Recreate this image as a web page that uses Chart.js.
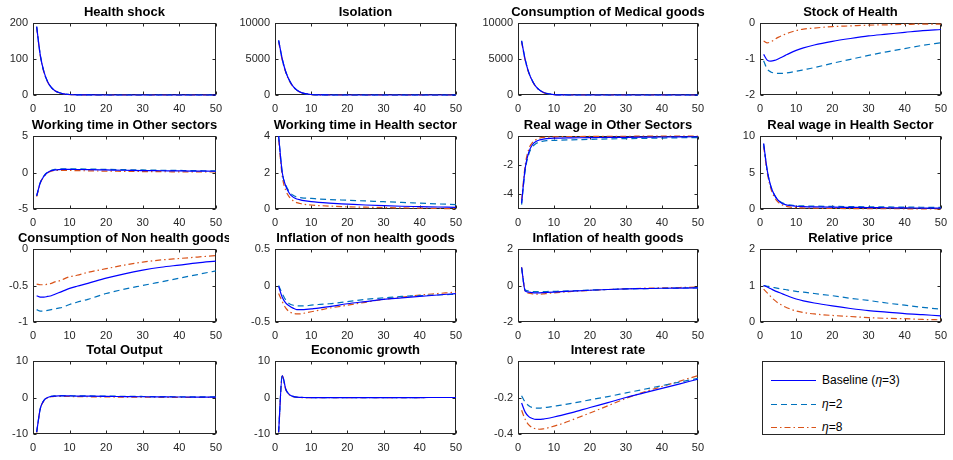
<!DOCTYPE html>
<html>
<head>
<meta charset="utf-8">
<script src="https://cdn.jsdelivr.net/npm/chart.js@4.4.1/dist/chart.umd.min.js"></script>
<style>
  html,body{margin:0;padding:0;background:#fff;}
  body{width:953px;height:460px;position:relative;overflow:hidden;font-family:"Liberation Sans",Arial,sans-serif;}
  canvas.panel{position:absolute;}
  #legend{position:absolute;left:762px;top:361px;width:181px;height:72px;border:1px solid #262626;background:#fff;}
  #legend .row{position:absolute;left:0;height:16px;width:181px;}
  #legend svg{position:absolute;left:8px;top:0;}
  #legend span{position:absolute;left:59px;top:0;font-size:12px;line-height:16px;color:#000;white-space:nowrap;}
</style>
</head>
<body>
<div id="legend">
  <div class="row" style="top:10px"><svg width="46" height="16"><line x1="0" y1="8.5" x2="45" y2="8.5" stroke="#0000FF" stroke-width="1.2"/></svg><span>Baseline (<i>η</i>=3)</span></div>
  <div class="row" style="top:34px"><svg width="46" height="16"><line x1="0" y1="8.5" x2="45" y2="8.5" stroke="#0072BD" stroke-width="1.2" stroke-dasharray="6,4"/></svg><span><i>η</i>=2</span></div>
  <div class="row" style="top:57px"><svg width="46" height="16"><line x1="0" y1="8.5" x2="45" y2="8.5" stroke="#D95319" stroke-width="1.2" stroke-dasharray="6,3,1.5,3"/></svg><span><i>η</i>=8</span></div>
</div>
<script>
// ---------- DATA ----------
const periods = [1,2,3,4,5,6,7,8,10,12,15,20,25,30,35,40,45,50];
const xTicks = [0,10,20,30,40,50];
const seriesNames = ["Baseline (η=3)", "η=2", "η=8"];

const titles = [
  "Health shock","Isolation","Consumption of Medical goods","Stock of Health",
  "Working time in Other sectors","Working time in Health sector","Real wage in Other Sectors","Real wage in Health Sector",
  "Consumption of Non health goods","Inflation of non health goods","Inflation of health goods","Relative price",
  "Total Output","Economic growth","Interest rate"
];
const yTicks = [
  [0,100,200],[0,5000,10000],[0,5000,10000],[-2,-1,0],
  [-5,0,5],[0,2,4],[-4,-2,0],[0,5,10],
  [-1,-0.5,0],[-0.5,0,0.5],[-2,0,2],[0,1,2],
  [-10,0,10],[-10,0,10],[-0.4,-0.2,0]
];
const yRanges = [
  [0,200],[0,10000],[0,10000],[-2,0],
  [-5,5],[0,4],[-5,0],[0,10],
  [-1,0],[-0.5,0.5],[-2,2],[0,2],
  [-10,10],[-10,10],[-0.4,0]
];

const healthShock_base = [190,110,64,37,21,12,7,4,1.4,0.5,0.1,0,0,0,0,0,0,0];
const healthShock_eta2 = [190,110,64,37,21,12,7,4,1.4,0.5,0.1,0,0,0,0,0,0,0];
const healthShock_eta8 = [188,108,63,36,20.5,11.8,6.8,3.9,1.3,0.5,0.1,0,0,0,0,0,0,0];

const isolation_base = [7600,5000,3200,2000,1200,700,400,220,70,20,3,0,0,0,0,0,0,0];
const isolation_eta2 = [7600,5000,3200,2000,1200,700,400,220,70,20,3,0,0,0,0,0,0,0];
const isolation_eta8 = [7400,4850,3100,1930,1150,670,380,210,65,18,3,0,0,0,0,0,0,0];

const medical_base = [7500,4900,3100,1950,1150,680,380,210,65,20,3,0,0,0,0,0,0,0];
const medical_eta2 = [7550,4950,3150,1980,1170,690,390,215,68,20,3,0,0,0,0,0,0,0];
const medical_eta8 = [7350,4800,3050,1900,1120,660,370,200,62,18,3,0,0,0,0,0,0,0];

const stock_base = [-0.87,-1.03,-1.06,-1.04,-1.0,-0.95,-0.9,-0.85,-0.76,-0.69,-0.61,-0.51,-0.43,-0.36,-0.31,-0.26,-0.21,-0.18];
const stock_eta2 = [-1.05,-1.28,-1.36,-1.39,-1.4,-1.4,-1.39,-1.38,-1.34,-1.3,-1.24,-1.12,-1.01,-0.9,-0.8,-0.71,-0.62,-0.55];
const stock_eta8 = [-0.5,-0.55,-0.52,-0.46,-0.4,-0.35,-0.31,-0.27,-0.21,-0.17,-0.14,-0.1,-0.08,-0.06,-0.05,-0.04,-0.03,-0.03];

const workOther_base = [-3.2,-1.4,-0.5,0,0.25,0.35,0.4,0.42,0.42,0.41,0.39,0.35,0.31,0.27,0.24,0.21,0.19,0.17];
const workOther_eta2 = [-3.2,-1.35,-0.45,0.05,0.3,0.42,0.47,0.5,0.5,0.49,0.47,0.43,0.39,0.35,0.31,0.28,0.25,0.22];
const workOther_eta8 = [-3.3,-1.45,-0.55,-0.05,0.18,0.28,0.3,0.3,0.28,0.26,0.23,0.19,0.16,0.13,0.11,0.09,0.08,0.07];

const workHealth_base = [4.0,2.0,1.25,0.85,0.65,0.55,0.5,0.46,0.4,0.36,0.32,0.27,0.22,0.18,0.15,0.13,0.11,0.09];
const workHealth_eta2 = [4.0,2.0,1.3,0.95,0.75,0.66,0.62,0.6,0.58,0.55,0.52,0.48,0.44,0.4,0.36,0.32,0.28,0.24];
const workHealth_eta8 = [3.8,1.8,1.0,0.65,0.45,0.35,0.3,0.26,0.22,0.19,0.16,0.12,0.1,0.08,0.06,0.05,0.03,0.02];

const wageOther_base = [-4.6,-2.2,-1.1,-0.6,-0.38,-0.27,-0.21,-0.18,-0.15,-0.14,-0.13,-0.11,-0.1,-0.09,-0.08,-0.07,-0.06,-0.05];
const wageOther_eta2 = [-4.7,-2.35,-1.25,-0.75,-0.52,-0.41,-0.35,-0.32,-0.3,-0.28,-0.26,-0.23,-0.2,-0.18,-0.16,-0.14,-0.12,-0.11];
const wageOther_eta8 = [-4.4,-2.0,-0.9,-0.45,-0.25,-0.15,-0.1,-0.08,-0.06,-0.05,-0.04,-0.03,-0.02,-0.02,-0.01,-0.01,-0.01,0];

const wageHealth_base = [9.0,5.3,3.1,1.9,1.2,0.8,0.6,0.48,0.38,0.33,0.29,0.25,0.22,0.19,0.17,0.15,0.13,0.11];
const wageHealth_eta2 = [8.9,5.3,3.1,1.95,1.25,0.88,0.68,0.56,0.46,0.42,0.39,0.36,0.33,0.3,0.28,0.26,0.24,0.22];
const wageHealth_eta8 = [8.6,5.0,2.8,1.6,0.95,0.6,0.4,0.28,0.18,0.14,0.11,0.08,0.06,0.05,0.04,0.03,0.02,0.02];

const consNonHealth_base = [-0.64,-0.66,-0.66,-0.65,-0.64,-0.62,-0.6,-0.58,-0.54,-0.51,-0.47,-0.4,-0.34,-0.29,-0.25,-0.22,-0.19,-0.165];
const consNonHealth_eta2 = [-0.83,-0.85,-0.85,-0.84,-0.83,-0.82,-0.81,-0.8,-0.76,-0.73,-0.69,-0.61,-0.55,-0.5,-0.45,-0.4,-0.35,-0.3];
const consNonHealth_eta8 = [-0.48,-0.49,-0.49,-0.48,-0.47,-0.45,-0.44,-0.42,-0.38,-0.36,-0.32,-0.27,-0.22,-0.18,-0.15,-0.13,-0.11,-0.09];

const inflNonHealth_base = [-0.01,-0.16,-0.24,-0.28,-0.31,-0.33,-0.33,-0.33,-0.32,-0.31,-0.29,-0.25,-0.22,-0.19,-0.17,-0.15,-0.13,-0.11];
const inflNonHealth_eta2 = [0,-0.11,-0.2,-0.25,-0.27,-0.28,-0.28,-0.28,-0.27,-0.26,-0.25,-0.22,-0.19,-0.17,-0.15,-0.14,-0.13,-0.12];
const inflNonHealth_eta8 = [-0.11,-0.22,-0.31,-0.36,-0.38,-0.39,-0.39,-0.38,-0.36,-0.34,-0.31,-0.27,-0.23,-0.19,-0.16,-0.13,-0.11,-0.09];

const inflHealth_base = [1.0,-0.3,-0.36,-0.39,-0.4,-0.4,-0.39,-0.38,-0.36,-0.34,-0.31,-0.26,-0.22,-0.19,-0.17,-0.15,-0.14,-0.13];
const inflHealth_eta2 = [0.95,-0.25,-0.3,-0.33,-0.34,-0.34,-0.34,-0.33,-0.32,-0.31,-0.29,-0.25,-0.22,-0.19,-0.17,-0.16,-0.14,-0.13];
const inflHealth_eta8 = [1.0,-0.3,-0.42,-0.46,-0.47,-0.47,-0.46,-0.44,-0.4,-0.37,-0.33,-0.27,-0.22,-0.18,-0.15,-0.13,-0.11,-0.09];

const relPrice_base = [1.0,0.96,0.91,0.86,0.82,0.78,0.74,0.7,0.63,0.58,0.52,0.44,0.37,0.31,0.27,0.23,0.2,0.17];
const relPrice_eta2 = [1.0,0.98,0.96,0.94,0.92,0.9,0.89,0.87,0.84,0.82,0.78,0.72,0.65,0.59,0.52,0.46,0.4,0.35];
const relPrice_eta8 = [0.9,0.8,0.69,0.6,0.52,0.46,0.41,0.37,0.3,0.26,0.22,0.18,0.15,0.12,0.1,0.09,0.07,0.06];

const output_base = [-9.5,-3.0,-0.8,0,0.3,0.4,0.45,0.45,0.42,0.4,0.36,0.3,0.25,0.2,0.17,0.14,0.12,0.1];
const output_eta2 = [-9.5,-3.0,-0.75,0.05,0.35,0.45,0.5,0.5,0.48,0.46,0.43,0.38,0.33,0.28,0.24,0.2,0.17,0.15];
const output_eta8 = [-9.6,-3.1,-0.9,-0.1,0.2,0.3,0.32,0.3,0.27,0.24,0.2,0.15,0.11,0.08,0.06,0.05,0.04,0.03];

const growth_base = [-9.5,6.0,2.2,0.8,0.3,0.1,0.05,0,-0.02,-0.02,-0.02,-0.02,-0.02,-0.01,-0.01,-0.01,0,0];
const growth_eta2 = [-9.5,6.0,2.2,0.8,0.3,0.1,0.05,0,-0.02,-0.02,-0.02,-0.02,-0.02,-0.01,-0.01,-0.01,0,0];
const growth_eta8 = [-9.6,5.9,2.1,0.7,0.2,0.05,0,-0.02,-0.03,-0.03,-0.03,-0.02,-0.02,-0.01,-0.01,-0.01,0,0];

const interest_base = [-0.23,-0.28,-0.305,-0.315,-0.32,-0.32,-0.318,-0.315,-0.307,-0.298,-0.283,-0.255,-0.228,-0.2,-0.175,-0.15,-0.125,-0.1];
const interest_eta2 = [-0.19,-0.225,-0.245,-0.255,-0.258,-0.258,-0.256,-0.254,-0.248,-0.242,-0.232,-0.213,-0.195,-0.175,-0.155,-0.135,-0.115,-0.095];
const interest_eta8 = [-0.27,-0.32,-0.35,-0.365,-0.372,-0.374,-0.372,-0.368,-0.357,-0.345,-0.323,-0.285,-0.245,-0.205,-0.17,-0.14,-0.11,-0.08];

const panelSeries = [
  [healthShock_base,healthShock_eta2,healthShock_eta8],
  [isolation_base,isolation_eta2,isolation_eta8],
  [medical_base,medical_eta2,medical_eta8],
  [stock_base,stock_eta2,stock_eta8],
  [workOther_base,workOther_eta2,workOther_eta8],
  [workHealth_base,workHealth_eta2,workHealth_eta8],
  [wageOther_base,wageOther_eta2,wageOther_eta8],
  [wageHealth_base,wageHealth_eta2,wageHealth_eta8],
  [consNonHealth_base,consNonHealth_eta2,consNonHealth_eta8],
  [inflNonHealth_base,inflNonHealth_eta2,inflNonHealth_eta8],
  [inflHealth_base,inflHealth_eta2,inflHealth_eta8],
  [relPrice_base,relPrice_eta2,relPrice_eta8],
  [output_base,output_eta2,output_eta8],
  [growth_base,growth_eta2,growth_eta8],
  [interest_base,interest_eta2,interest_eta8]
];

// ---------- LAYOUT / STYLE ----------
const colL = [33,275,518,760], colR = [219,459,701,944];
const rowT = [23,136,249,361], rowB = [95,209,322,434];
const YW = 44, TOPPAD = 24, XH = 22, RPAD = 10;
const lineColors = ["#0000FF","#0072BD","#D95319"];
const lineDashes = [[],[6,4],[6,3,1.5,3]];
const AXC = "#262626";
const FONT = '"Liberation Sans", Arial, sans-serif';

const framePlugin = {
  id:'frame',
  beforeDatasetsDraw(chart){
    const {ctx, chartArea:a} = chart;
    const xs = chart.scales.x, ys = chart.scales.y;
    const L = Math.round(a.left)+0.5, R = Math.round(a.right)-0.5, T = Math.round(a.top)+0.5, B = Math.round(a.bottom)-0.5;
    ctx.save();
    ctx.strokeStyle = AXC; ctx.lineWidth = 1;
    ctx.strokeRect(L, T, R-L, B-T);
    ctx.beginPath();
    const tl = 3;
    xs.ticks.forEach(t=>{
      const p = Math.round(xs.getPixelForValue(t.value))+0.5;
      ctx.moveTo(p,B); ctx.lineTo(p,B-tl);
      ctx.moveTo(p,T); ctx.lineTo(p,T+tl);
    });
    ys.ticks.forEach(t=>{
      const p = Math.round(ys.getPixelForValue(t.value))+0.5;
      ctx.moveTo(L,p); ctx.lineTo(L+tl,p);
      ctx.moveTo(R,p); ctx.lineTo(R-tl,p);
    });
    ctx.stroke();
    ctx.restore();
  },
  afterDraw(chart){
    const {ctx, chartArea:a} = chart;
    ctx.save();
    ctx.fillStyle = "#000";
    ctx.font = 'bold 13px ' + FONT;
    ctx.textAlign = 'center'; ctx.textBaseline = 'middle';
    ctx.fillText(chart.options.plugins.frame.title, (a.left+a.right)/2, a.top - 11);
    ctx.restore();
  }
};

panelSeries.forEach((series, i) => {
  const r = Math.floor(i/4), c = i%4;
  const pw = colR[c]-colL[c], ph = rowB[r]-rowT[r];
  const cv = document.createElement('canvas');
  cv.className = 'panel';
  cv.width = pw + YW + RPAD; cv.height = ph + TOPPAD + XH;
  cv.style.left = (colL[c]-YW)+'px'; cv.style.top = (rowT[r]-TOPPAD)+'px';
  cv.style.width = cv.width+'px'; cv.style.height = cv.height+'px';
  document.body.appendChild(cv);
  const yt = yTicks[i];
  new Chart(cv, {
    type:'line',
    data:{
      datasets: series.map((vals, k) => ({
        label: seriesNames[k],
        data: periods.map((p, j) => ({x:p, y:vals[j]})),
        borderColor: lineColors[k],
        borderDash: lineDashes[k],
        borderWidth: 1.2,
        pointRadius: 0,
        fill: false,
        clip: 2,
        cubicInterpolationMode: 'monotone',
        order: k
      }))
    },
    options:{
      responsive:false, animation:false, devicePixelRatio:1,
      layout:{padding:{top:TOPPAD,right:RPAD,left:0,bottom:0}},
      plugins:{legend:{display:false}, tooltip:{enabled:false}, title:{display:false}, frame:{title:titles[i]}},
      scales:{
        x:{type:'linear', min:0, max:50,
           afterBuildTicks: s => { s.ticks = xTicks.map(v=>({value:v})); },
           afterFit: s => { s.height = XH; },
           grid:{display:false, drawTicks:false}, border:{display:false},
           ticks:{padding:7, color:AXC, font:{size:11, family:FONT}, maxRotation:0, autoSkip:false, callback: v => String(v)}},
        y:{type:'linear', min:yRanges[i][0], max:yRanges[i][1],
           afterBuildTicks: s => { s.ticks = yt.map(v=>({value:v})); },
           afterFit: s => { s.width = YW; },
           grid:{display:false, drawTicks:false}, border:{display:false},
           ticks:{padding:5, color:AXC, font:{size:11, family:FONT}, autoSkip:false, callback: v => String(v)}}
      }
    },
    plugins:[framePlugin]
  });
});
</script>
</body>
</html>
